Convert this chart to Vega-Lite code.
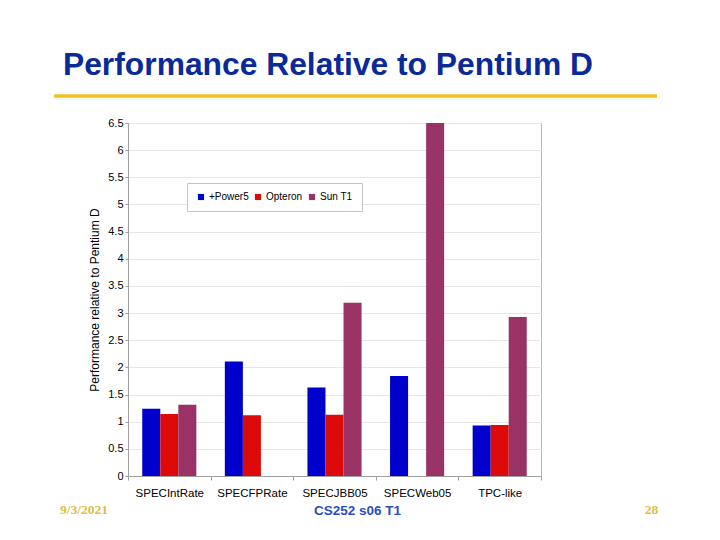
{
  "$schema": "https://vega.github.io/schema/vega-lite/v6.json",
  "description": "Performance Relative to Pentium D",
  "width": 413,
  "height": 353,
  "autosize": {"type": "none"},
  "padding": {"left": 128, "top": 123, "right": 179, "bottom": 64},
  "background": "white",
  "config": {
    "font": "Liberation Sans",
    "view": {"stroke": "#b8b8b8", "strokeWidth": 1}
  },
  "layer": [
    {
      "data": {
        "values": [
          {"benchmark": "SPECIntRate", "cpu": "+Power5", "value": 1.24},
          {"benchmark": "SPECIntRate", "cpu": "Opteron", "value": 1.14},
          {"benchmark": "SPECIntRate", "cpu": "Sun T1", "value": 1.31},
          {"benchmark": "SPECFPRate", "cpu": "+Power5", "value": 2.11},
          {"benchmark": "SPECFPRate", "cpu": "Opteron", "value": 1.12},
          {"benchmark": "SPECJBB05", "cpu": "+Power5", "value": 1.63},
          {"benchmark": "SPECJBB05", "cpu": "Opteron", "value": 1.13},
          {"benchmark": "SPECJBB05", "cpu": "Sun T1", "value": 3.19},
          {"benchmark": "SPECWeb05", "cpu": "+Power5", "value": 1.84},
          {"benchmark": "SPECWeb05", "cpu": "Sun T1", "value": 6.5},
          {"benchmark": "TPC-like", "cpu": "+Power5", "value": 0.93},
          {"benchmark": "TPC-like", "cpu": "Opteron", "value": 0.94},
          {"benchmark": "TPC-like", "cpu": "Sun T1", "value": 2.93}
        ]
      },
      "mark": {"type": "bar"},
      "encoding": {
        "x": {
          "field": "benchmark",
          "type": "nominal",
          "sort": ["SPECIntRate", "SPECFPRate", "SPECJBB05", "SPECWeb05", "TPC-like"],
          "scale": {"paddingInner": 0, "paddingOuter": 0},
          "axis": {
            "title": null,
            "labelAngle": 0,
            "labelFontSize": 11.5,
            "labelColor": "black",
            "labelPadding": 7,
            "tickBand": "extent",
            "tickSize": 4,
            "tickColor": "#a0a0a0",
            "domainColor": "#a0a0a0",
            "grid": false
          }
        },
        "xOffset": {
          "field": "cpu",
          "type": "nominal",
          "sort": ["+Power5", "Opteron", "Sun T1"],
          "scale": {"paddingInner": 0, "paddingOuter": 0.79}
        },
        "y": {
          "field": "value",
          "type": "quantitative",
          "scale": {"domain": [0, 6.5], "nice": false},
          "axis": {
            "title": "Performance relative to Pentium D",
            "titleFontSize": 12,
            "titleFontWeight": "normal",
            "titleColor": "black",
            "titlePadding": 6,
            "values": [0, 0.5, 1, 1.5, 2, 2.5, 3, 3.5, 4, 4.5, 5, 5.5, 6, 6.5],
            "format": "~g",
            "labelFontSize": 11,
            "labelColor": "black",
            "labelPadding": 2,
            "tickSize": 3,
            "tickColor": "#a0a0a0",
            "domainColor": "#a0a0a0",
            "gridColor": "#e6e6e6"
          }
        },
        "color": {
          "field": "cpu",
          "type": "nominal",
          "sort": ["+Power5", "Opteron", "Sun T1"],
          "scale": {"range": ["#0000cc", "#dd0a0a", "#993366"]},
          "legend": {
            "title": null,
            "orient": "none",
            "legendX": 59,
            "legendY": 60,
            "direction": "horizontal",
            "fillColor": "white",
            "strokeColor": "#c4c4c4",
            "padding": 9,
            "symbolType": "square",
            "symbolSize": 38,
            "symbolStrokeWidth": 0,
            "labelFontSize": 10,
            "labelColor": "black",
            "labelOffset": 3,
            "columnPadding": 4
          }
        }
      }
    },
    {
      "encoding": {
        "x": {
          "type": "quantitative",
          "scale": {"domain": [0.1778, 0.7514], "nice": false, "zero": false},
          "axis": null
        },
        "y": {
          "type": "quantitative",
          "scale": {"domain": [0.2278, 0.8815], "nice": false, "zero": false, "reverse": true},
          "axis": null
        }
      },
      "layer": [
        {
          "data": {"values": [{}]},
          "mark": {"type": "rule", "color": "#f0c020", "strokeWidth": 3.5},
          "encoding": {
            "x": {"datum": 0.075},
            "x2": {"datum": 0.9125},
            "y": {"datum": 0.1778}
          }
        },
        {
          "data": {"values": [{}]},
          "mark": {
            "type": "text",
            "text": "Performance Relative to Pentium D",
            "align": "left",
            "baseline": "alphabetic",
            "fontSize": 31.8,
            "fontWeight": "bold",
            "color": "#0a2a98"
          },
          "encoding": {"x": {"datum": 0.0875}, "y": {"datum": 0.1389}}
        },
        {
          "data": {"values": [{}]},
          "mark": {
            "type": "text",
            "text": "9/3/2021",
            "align": "left",
            "baseline": "alphabetic",
            "font": "Liberation Serif",
            "fontSize": 13.5,
            "fontWeight": "bold",
            "color": "#e0bd45"
          },
          "encoding": {"x": {"datum": 0.0833}, "y": {"datum": 0.9519}}
        },
        {
          "data": {"values": [{}]},
          "mark": {
            "type": "text",
            "text": "CS252 s06 T1",
            "align": "center",
            "baseline": "alphabetic",
            "fontSize": 13.5,
            "fontWeight": "bold",
            "color": "#2a4fc0"
          },
          "encoding": {"x": {"datum": 0.4965}, "y": {"datum": 0.9537}}
        },
        {
          "data": {"values": [{}]},
          "mark": {
            "type": "text",
            "text": "28",
            "align": "center",
            "baseline": "alphabetic",
            "font": "Liberation Serif",
            "fontSize": 13.5,
            "fontWeight": "bold",
            "color": "#e0bd45"
          },
          "encoding": {"x": {"datum": 0.9049}, "y": {"datum": 0.9519}}
        }
      ]
    }
  ],
  "resolve": {"scale": {"x": "independent", "y": "independent"}}
}
